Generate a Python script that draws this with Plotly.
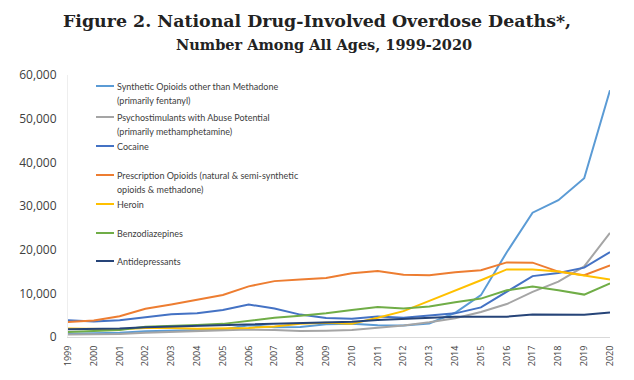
import plotly.graph_objects as go

years = list(range(1999, 2021))

synthetic = [730, 782, 957, 1295, 1400, 1664, 1742, 2707, 2213, 2306, 2946, 3007,
             2666, 2628, 3105, 5544, 9580, 19413, 28466, 31335, 36359, 56516]
psychostim = [547, 578, 684, 946, 1147, 1361, 1598, 1711, 1582, 1368, 1447, 1611,
              2104, 2636, 3353, 4298, 5716, 7542, 10333, 12676, 16167, 23837]
cocaine = [3822, 3544, 3833, 4599, 5199, 5443, 6208, 7448, 6512, 5129, 4350, 4183,
           4681, 4404, 4944, 5415, 6784, 10375, 13942, 14666, 15883, 19447]
prescription = [3442, 3785, 4770, 6483, 7456, 8577, 9612, 11589, 12796, 13149, 13523, 14583,
                15140, 14240, 14145, 14838, 15281, 17087, 17029, 14975, 14139, 16416]
heroin = [1960, 1842, 1779, 2089, 2080, 1878, 2009, 2088, 2399, 3041, 3278, 3036,
          4397, 5925, 8257, 10574, 12989, 15469, 15482, 14996, 14019, 13165]
benzo = [1135, 1298, 1594, 2340, 2623, 2765, 3007, 3707, 4384, 4864, 5434, 6197,
         6872, 6524, 6973, 7945, 8791, 10684, 11537, 10724, 9711, 12290]
antidep = [1749, 1804, 1927, 2237, 2388, 2567, 2681, 2897, 3083, 3238, 3357, 3495,
           3882, 4141, 4383, 4635, 4663, 4648, 5176, 5064, 5070, 5597]

series_names = [
    ["Synthetic Opioids other than Methadone", "(primarily fentanyl)"],
    ["Psychostimulants with Abuse Potential", "(primarily methamphetamine)"],
    ["Cocaine"],
    ["Prescription Opioids (natural & semi-synthetic", "opioids & methadone)"],
    ["Heroin"],
    ["Benzodiazepines"],
    ["Antidepressants"],
]
series_values = [synthetic, psychostim, cocaine, prescription, heroin, benzo, antidep]
colors = ["#5B9BD5", "#A5A5A5", "#4472C4", "#ED7D31", "#FFC000", "#70AD47", "#264478"]

y_ticks = [0, 10000, 20000, 30000, 40000, 50000, 60000]

fig = go.Figure()
for names, vals, c in zip(series_names, series_values, colors):
    fig.add_trace(go.Scatter(x=years, y=vals, mode="lines", name=" ".join(names),
                             line=dict(color=c, width=2), showlegend=False))

# Manual legend (Excel style) in paper coordinates
W, H = 634, 380
ml, mr, mt, mb = 68, 24, 75, 43
pw = W - ml - mr
ph = H - mt - mb

def px_to_paper_x(px):
    return (px - ml) / pw

def px_to_paper_y(py):
    return (H - mb - py) / ph

legend_y = [86, 117, 146, 175, 204, 233, 261]
annotations = []
shapes = []
for names, c, ly in zip(series_names, colors, legend_y):
    shapes.append(dict(type="line", xref="paper", yref="paper",
                       x0=px_to_paper_x(96), x1=px_to_paper_x(114),
                       y0=px_to_paper_y(ly), y1=px_to_paper_y(ly),
                       line=dict(color=c, width=2)))
    for i, t in enumerate(names):
        annotations.append(dict(text=t, xref="paper", yref="paper",
                                x=px_to_paper_x(115), y=px_to_paper_y(ly + i * 14),
                                xanchor="left", yanchor="middle", showarrow=False,
                                font=dict(family="Lato", size=9, color="#404040")))

annotations.append(dict(text="<b>Figure 2. National Drug-Involved Overdose Deaths*,</b>",
                        xref="paper", yref="paper", x=px_to_paper_x(317), y=px_to_paper_y(21),
                        xanchor="center", yanchor="middle", showarrow=False,
                        font=dict(family="DejaVu Serif", size=17.4, color="#222222")))
annotations.append(dict(text="<b>Number Among All Ages, 1999-2020</b>",
                        xref="paper", yref="paper", x=px_to_paper_x(324), y=px_to_paper_y(45),
                        xanchor="center", yanchor="middle", showarrow=False,
                        font=dict(family="DejaVu Serif", size=14.5, color="#222222")))

fig.update_layout(
    width=W, height=H,
    margin=dict(l=ml, r=mr, t=mt, b=mb),
    paper_bgcolor="white", plot_bgcolor="white",
    annotations=annotations, shapes=shapes,
    xaxis=dict(range=[1999, 2020], tickmode="array", tickvals=years,
               ticktext=[str(y) for y in years], tickangle=-90,
               tickfont=dict(family="Open Sans", size=9, color="#404040"),
               showgrid=False, zeroline=False, showline=True, linecolor="#D9D9D9",
               linewidth=1, ticks="", ticklabelstandoff=4),
    yaxis=dict(range=[0, 60000], tickmode="array", tickvals=y_ticks,
               ticktext=[f"{v:,}" for v in y_ticks],
               tickfont=dict(family="Open Sans", size=12, color="#404040"),
               showgrid=False, zeroline=False, showline=True, linecolor="#EEEEEE",
               linewidth=1, ticks="", ticklabelstandoff=8),
)

fig.write_html("out.html")
